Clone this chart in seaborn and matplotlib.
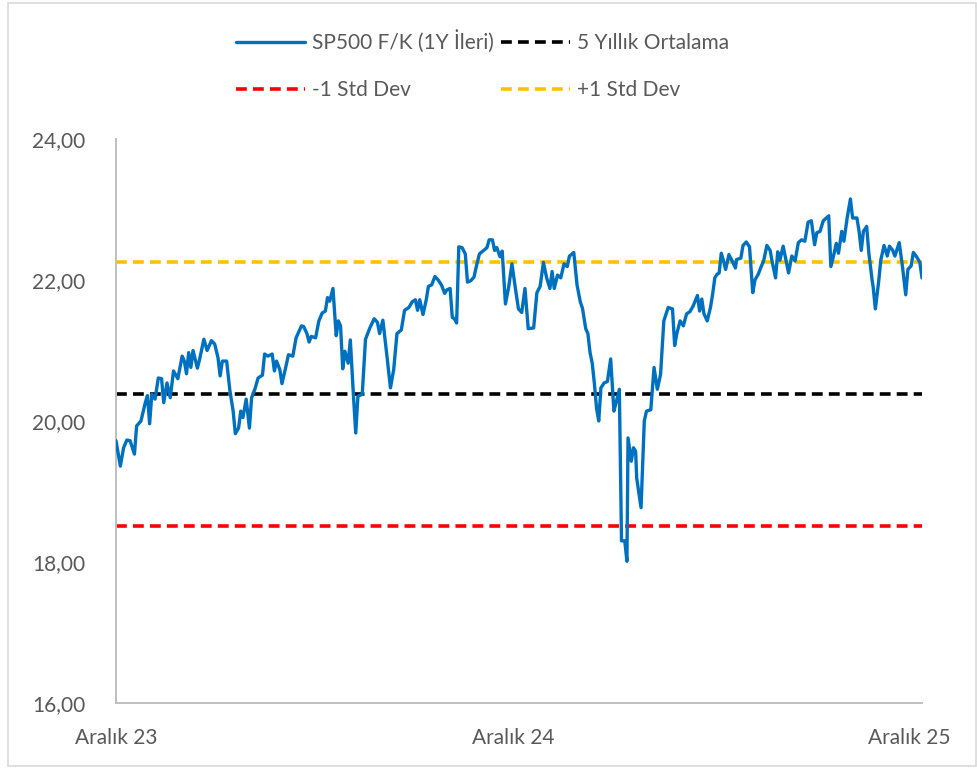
import pandas as pd
import numpy as np
import matplotlib
matplotlib.use("Agg")
import matplotlib.pyplot as plt
from matplotlib.patches import Rectangle
import seaborn as sns

# ---------------- data ----------------
start_date = "2023-12-01"
days_since_start = [
    0, 4, 7, 10, 13, 17, 19, 23, 27, 29, 31, 33, 36, 39, 42, 44, 47, 50, 53, 57,
    61, 63, 65, 67, 69, 71, 75, 77, 81, 84, 88, 91, 94, 96, 98, 102, 105, 108, 110, 113,
    115, 117, 120, 123, 125, 128, 131, 135, 137, 140, 144, 146, 148, 151, 153, 156, 159, 163, 166, 171,
    173, 176, 178, 180, 184, 187, 190, 193, 195, 197, 200, 203, 205, 207, 209, 211, 214, 216, 219, 221,
    223, 227, 230, 234, 238, 241, 243, 246, 250, 253, 256, 259, 263, 266, 270, 273, 276, 278, 280, 283,
    286, 288, 291, 294, 297, 300, 303, 305, 308, 310, 312, 314, 316, 319, 322, 324, 327, 330, 332, 335,
    339, 342, 344, 347, 349, 351, 354, 356,
    359, 362, 365, 368, 371, 374, 377, 380, 385, 388, 391, 394, 397, 400, 402, 404, 407, 410, 413, 416,
    418, 422, 425, 428, 430, 433, 435, 437, 439, 441, 443, 445, 447, 450, 453, 456, 459, 461, 464, 466,
    469, 471, 472, 475, 477, 479, 480, 484, 487, 489, 493, 496, 499, 502, 505, 509, 513, 515, 517, 520,
    523, 526,
    529, 532, 536, 538, 540, 542, 545, 548, 550, 552, 554, 556, 558, 560, 562, 565, 568, 571, 572, 576,
    578, 581, 584, 587, 589, 592, 595, 597, 600, 603, 605, 608, 610, 612, 615, 618, 620, 623, 626, 629,
    632, 635, 638, 641, 644, 646, 649, 652, 657, 659, 662, 664, 666, 669, 671, 674, 677, 679, 683, 685,
    687, 689, 692, 694, 697, 698, 700, 703, 705, 708, 711, 713, 716, 718, 722, 725, 728, 730, 733, 735,
    738, 741, 743,
]
pe_forward = [
    19.72, 19.36, 19.62, 19.73, 19.72, 19.53, 19.93, 20.00, 20.26, 20.36, 19.96, 20.38, 20.31, 20.61, 20.60, 20.26, 20.54, 20.33, 20.71, 20.60,
    20.92, 20.85, 20.67, 20.97, 20.76, 21.00, 20.75, 20.87, 21.16, 21.00, 21.14, 21.09, 20.90, 20.64, 20.85, 20.85, 20.43, 20.14, 19.82, 19.90,
    20.14, 20.05, 20.31, 19.90, 20.33, 20.45, 20.61, 20.65, 20.95, 20.92, 20.95, 20.71, 20.85, 20.73, 20.53, 20.73, 20.94, 20.92, 21.18, 21.35,
    21.34, 21.24, 21.12, 21.20, 21.18, 21.42, 21.53, 21.56, 21.75, 21.70, 21.88, 21.21, 21.42, 21.35, 20.74, 20.99, 20.82, 21.15, 20.33, 19.83,
    20.35, 20.38, 21.16, 21.32, 21.45, 21.40, 21.24, 21.43, 20.89, 20.47, 20.73, 21.24, 21.29, 21.57, 21.61, 21.69, 21.72, 21.57, 21.72, 21.51,
    21.72, 21.91, 21.93, 22.05, 22.00, 21.93, 21.81, 21.86, 21.88, 21.47, 21.45, 21.39, 22.47, 22.46, 22.37, 21.97, 21.99, 22.04, 22.18, 22.37,
    22.42, 22.46, 22.57, 22.57, 22.42, 22.46, 22.33, 22.41,
    21.66, 21.90, 22.23, 21.90, 21.59, 21.54, 21.88, 21.31, 21.32, 21.82, 21.91, 22.25, 22.03, 21.88, 22.12, 21.88, 22.07, 22.03, 22.23, 22.19,
    22.34, 22.39, 21.93, 21.69, 21.60, 21.31, 21.24, 20.97, 20.82, 20.53, 20.18, 20.00, 20.47, 20.54, 20.56, 20.88, 20.14, 20.26, 20.45, 18.30,
    18.30, 18.01, 19.76, 19.43, 19.62, 19.57, 19.19, 18.77, 20.00, 20.14, 20.16, 20.76, 20.45, 20.66, 21.42, 21.61, 21.59, 21.07, 21.24, 21.42,
    21.35, 21.52,
    21.55, 21.63, 21.78, 21.56, 21.73, 21.52, 21.42, 21.61, 21.80, 22.03, 22.08, 22.10, 22.38, 22.27, 22.15, 22.36, 22.27, 22.17, 22.29, 22.31,
    22.49, 22.54, 22.47, 21.82, 22.00, 22.08, 22.20, 22.27, 22.49, 22.42, 22.25, 22.03, 22.40, 22.28, 22.48, 22.25, 22.10, 22.34, 22.27, 22.53,
    22.57, 22.55, 22.82, 22.84, 22.50, 22.67, 22.69, 22.84, 22.91, 22.19, 22.38, 22.52, 22.38, 22.69, 22.55, 22.88, 23.15, 22.88, 22.88, 22.69,
    22.42, 22.69, 22.76, 22.38, 22.00, 21.90, 21.59, 21.97, 22.28, 22.49, 22.34, 22.48, 22.42, 22.34, 22.53, 22.19, 21.79, 22.15, 22.20, 22.39,
    22.33, 22.25, 22.03,
]
five_year_avg = 20.38
minus_1_std = 18.51
plus_1_std = 22.25

series_label = "SP500 F/K (1Y İleri)"
avg_label = "5 Yıllık Ortalama"
minus_label = "-1 Std Dev"
plus_label = "+1 Std Dev"

x_tick_dates = ["2023-12-01", "2024-12-01", "2025-12-01"]
x_tick_labels = ["Aralık 23", "Aralık 24", "Aralık 25"]
y_ticks = [16, 18, 20, 22, 24]

# ---------------- frame ----------------
dates = pd.Timestamp(start_date) + pd.to_timedelta(days_since_start, unit="D")
df = pd.DataFrame({"date": dates, "pe": pe_forward})

sns.set_theme(style="white")
plt.rcParams["font.family"] = ["Lato", "DejaVu Sans"]

text_color = "#595959"
fs = 15
fig = plt.figure(figsize=(9.78, 7.68), dpi=100)
ax = fig.add_axes([116 / 978, 1 - 703 / 768, (922 - 116) / 978, (703 - 139) / 768])

sns.lineplot(data=df, x="date", y="pe", ax=ax, color="#0070C0", lw=2.4,
             label=series_label, zorder=3)
dash = (0, (3.0, 1.7))
h_avg = ax.axhline(five_year_avg, color="black", lw=2.6, ls=dash, label=avg_label, zorder=2)
h_min = ax.axhline(minus_1_std, color="#FF0000", lw=2.6, ls=dash, label=minus_label, zorder=2)
h_plus = ax.axhline(plus_1_std, color="#FFC000", lw=2.6, ls=dash, label=plus_label, zorder=2)

ax.set_xlim(pd.Timestamp(start_date), dates[-1])
ax.set_ylim(16, 24)
ax.set_yticks(y_ticks)
ax.set_yticklabels([f"{t:.2f}".replace(".", ",") for t in y_ticks])
ax.set_xticks(pd.to_datetime(x_tick_dates))
ax.set_xticklabels(x_tick_labels)
ax.set_xlabel("")
ax.set_ylabel("")
ax.tick_params(axis="both", length=0, labelsize=fs, colors=text_color)
ax.tick_params(axis="y", pad=22)
ax.tick_params(axis="x", pad=18)
for s in ["top", "right"]:
    ax.spines[s].set_visible(False)
for s in ["left", "bottom"]:
    ax.spines[s].set_color("#BFBFBF")
    ax.spines[s].set_linewidth(1.4)
ax.grid(False)

handles, labels = ax.get_legend_handles_labels()
lookup = dict(zip(labels, handles))
order = [series_label, minus_label, avg_label, plus_label]
ax.get_legend().remove()
leg = fig.legend([lookup[k] for k in order], order, loc="upper left",
                 bbox_to_anchor=(236 / 978, 1 - 30 / 768), ncol=2, frameon=False,
                 fontsize=fs, handlelength=3.3, handletextpad=0.35,
                 columnspacing=0.35, labelspacing=1.3, borderpad=0, borderaxespad=0)
for t in leg.get_texts():
    t.set_color(text_color)

fig.add_artist(Rectangle((8 / 978, 2 / 768), (976 - 8) / 978, (765 - 2) / 768,
                         transform=fig.transFigure, fill=False,
                         edgecolor="#D9D9D9", lw=1.2))

fig.savefig("out.png", dpi=100, facecolor="white")
